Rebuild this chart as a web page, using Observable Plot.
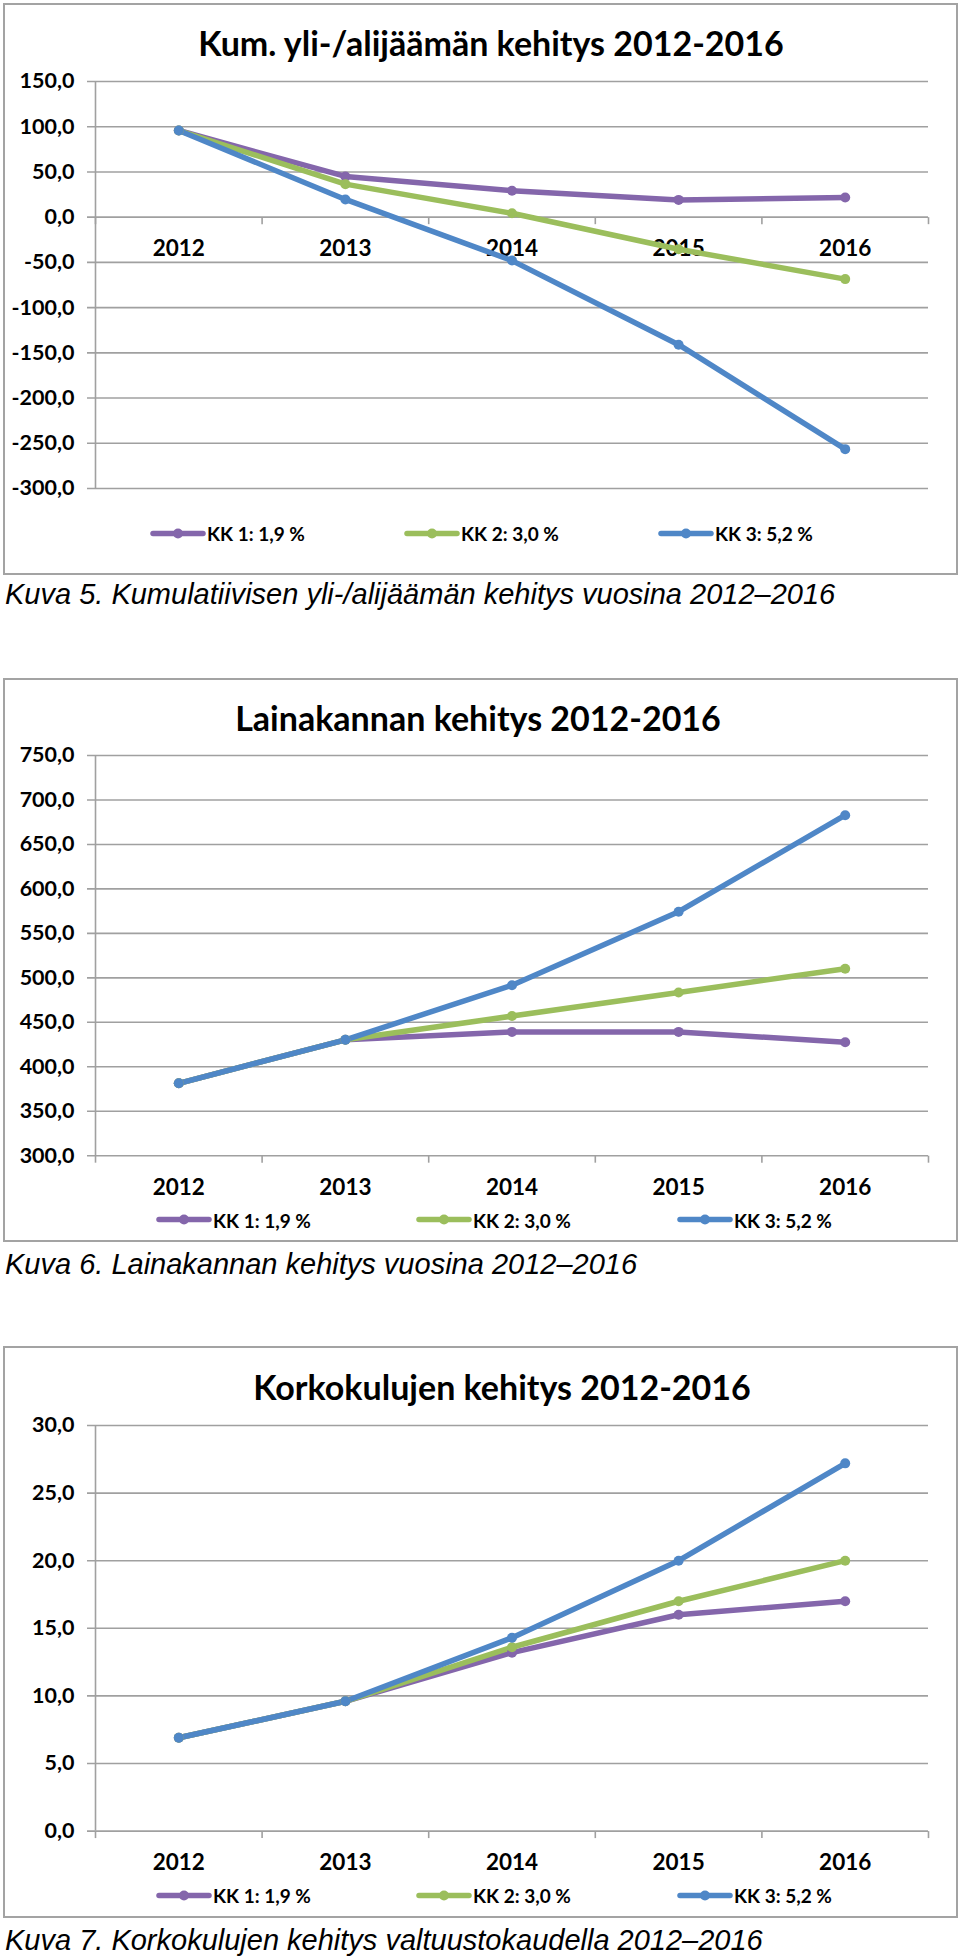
<!DOCTYPE html>
<html><head><meta charset="utf-8">
<script src="https://cdn.jsdelivr.net/npm/d3@7"></script>
<script src="https://cdn.jsdelivr.net/npm/@observablehq/plot@0.6"></script>
<style>
body{margin:0;background:#fff;}
#page{position:relative;width:960px;height:1956px;overflow:hidden;background:#fff;}
.box{position:absolute;border:2px solid #a3a3a3;box-sizing:border-box;}
.cf{font-family:Lato,'Open Sans',sans-serif;font-weight:bold;color:#000;}
.title{position:absolute;transform:translate(-50%,-50%);white-space:nowrap;font-size:34px;}
.plot{position:absolute;left:0;}
.leg{position:absolute;transform:translateY(-50%);display:flex;align-items:center;white-space:nowrap;font-size:19px;}
.caption{position:absolute;left:5px;transform:translateY(-50%);white-space:nowrap;font-family:'Liberation Sans',Arial,sans-serif;font-style:italic;font-size:29px;color:#000;}
</style>
</head><body><div id="page"></div>
<script>
const years = [2012, 2013, 2014, 2015, 2016];
const seriesNames = ["KK 1: 1,9 %", "KK 2: 3,0 %", "KK 3: 5,2 %"];
const seriesColors = ["#8466ab", "#9bbe5c", "#4f87c7"];

// Kuva 5: kumulatiivinen yli-/alijäämä
const kumTitle = "Kum. yli-/alijäämän kehitys 2012-2016";
const kumCaption = "Kuva 5. Kumulatiivisen yli-/alijäämän kehitys vuosina 2012–2016";
const kumKK1 = [95.8, 45.0, 29.3, 19.1, 21.7];
const kumKK2 = [95.8, 36.5, 4.3, -35.5, -68.5];
const kumKK3 = [95.8, 19.6, -48.0, -141.0, -256.5];
const kumTicks = [150, 100, 50, 0, -50, -100, -150, -200, -250, -300];

// Kuva 6: lainakanta
const lainaTitle = "Lainakannan kehitys 2012-2016";
const lainaCaption = "Kuva 6. Lainakannan kehitys vuosina 2012–2016";
const lainaKK1 = [381.4, 430.3, 439.2, 439.2, 427.6];
const lainaKK2 = [381.4, 430.3, 457.0, 483.6, 510.3];
const lainaKK3 = [381.4, 430.3, 491.6, 574.4, 682.9];
const lainaTicks = [750, 700, 650, 600, 550, 500, 450, 400, 350, 300];

// Kuva 7: korkokulut
const korkoTitle = "Korkokulujen kehitys 2012-2016";
const korkoCaption = "Kuva 7. Korkokulujen kehitys valtuustokaudella 2012–2016";
const korkoKK1 = [6.9, 9.6, 13.2, 16.0, 17.0];
const korkoKK2 = [6.9, 9.6, 13.6, 17.0, 20.0];
const korkoKK3 = [6.9, 9.6, 14.3, 20.0, 27.2];
const korkoTicks = [30, 25, 20, 15, 10, 5, 0];

const bounds = [2011.5, 2012.5, 2013.5, 2014.5, 2015.5, 2016.5];
const fmt = d => d.toFixed(1).replace(".", ",");
const labelFont = "Lato,'Open Sans',sans-serif";
const grid = "#a0a0a0";
const tickSymbol = {draw(ctx) { ctx.moveTo(0, 0); ctx.lineTo(0, 7); }};

const page = document.getElementById("page");

const charts = [
  {title: kumTitle, caption: kumCaption, series: [kumKK1, kumKK2, kumKK3], ticks: kumTicks,
   domain: [-300, 150], axisVal: 0, boxTop: 3, boxBottom: 575, titleX: 491, titleY: 42,
   gridTop: 81, gridBottom: 488, legY: 533, legX: [150, 404, 658], capY: 594},
  {title: lainaTitle, caption: lainaCaption, series: [lainaKK1, lainaKK2, lainaKK3], ticks: lainaTicks,
   domain: [300, 750], axisVal: 300, boxTop: 678, boxBottom: 1242, titleX: 478, titleY: 717,
   gridTop: 755.3, gridBottom: 1155.5, legY: 1219.5, legX: [156, 416, 677], capY: 1264},
  {title: korkoTitle, caption: korkoCaption, series: [korkoKK1, korkoKK2, korkoKK3], ticks: korkoTicks,
   domain: [0, 30], axisVal: 0, boxTop: 1346, boxBottom: 1918, titleX: 502, titleY: 1386,
   gridTop: 1424.6, gridBottom: 1830.2, legY: 1895, legX: [156, 416, 677], capY: 1940}
];

function el(tag, cls, styles, text) {
  const e = document.createElement(tag);
  if (cls) e.className = cls;
  Object.assign(e.style, styles || {});
  if (text != null) e.textContent = text;
  page.appendChild(e);
  return e;
}

for (const c of charts) {
  el("div", "box", {left: "3px", top: c.boxTop + "px", width: "955px", height: (c.boxBottom - c.boxTop) + "px"});
  el("div", "title cf", {left: c.titleX + "px", top: c.titleY + "px"}, c.title);

  const rows = [];
  c.series.forEach((vals, s) => vals.forEach((v, i) => rows.push({year: years[i], value: v, series: seriesNames[s]})));
  const mt = 20, mb = 30;
  const chart = Plot.plot({
    width: 960,
    height: (c.gridBottom - c.gridTop) + mt + mb,
    marginLeft: 95, marginRight: 32, marginTop: mt, marginBottom: mb,
    x: {domain: [2011.5, 2016.5], axis: null},
    y: {domain: c.domain, axis: null},
    color: {domain: seriesNames, range: seriesColors},
    style: {background: "transparent", overflow: "visible", fontFamily: labelFont},
    marks: [
      Plot.ruleY(c.ticks, {y: d => d, stroke: grid, strokeWidth: 1.6, insetLeft: -8}),
      Plot.ruleX([2011.5], {x: d => d, stroke: grid, strokeWidth: 1.6}),
      Plot.dot(bounds, {x: d => d, y: c.axisVal, symbol: tickSymbol, stroke: grid, strokeWidth: 1.6, fill: "none", r: 3}),
      Plot.text(c.ticks, {x: 2011.5, y: d => d, text: fmt, textAnchor: "end", dx: -21, fontSize: 21.5, fontWeight: "bold", fill: "#000"}),
      Plot.text(years, {x: d => d, y: c.axisVal, dy: 32, text: d => String(d), fontSize: 22.5, fontWeight: "bold", fill: "#000"}),
      Plot.line(rows, {x: "year", y: "value", stroke: "series", z: "series", strokeWidth: 5.5, strokeLinejoin: "round", strokeLinecap: "round"}),
      Plot.dot(rows, {x: "year", y: "value", fill: "series", r: 5})
    ]
  });
  chart.classList.add("plot");
  chart.style.position = "absolute";
  chart.style.left = "0px";
  chart.style.top = (c.gridTop - mt) + "px";
  page.appendChild(chart);

  seriesNames.forEach((name, i) => {
    const item = el("div", "leg cf", {left: c.legX[i] + "px", top: c.legY + "px"});
    const ns = "http://www.w3.org/2000/svg";
    const sw = document.createElementNS(ns, "svg");
    sw.setAttribute("width", 56); sw.setAttribute("height", 12);
    sw.style.marginRight = "1px";
    const ln = document.createElementNS(ns, "line");
    ln.setAttribute("x1", 3); ln.setAttribute("x2", 53); ln.setAttribute("y1", 6); ln.setAttribute("y2", 6);
    ln.setAttribute("stroke", seriesColors[i]); ln.setAttribute("stroke-width", 5.5); ln.setAttribute("stroke-linecap", "round");
    const ci = document.createElementNS(ns, "circle");
    ci.setAttribute("cx", 28); ci.setAttribute("cy", 6); ci.setAttribute("r", 5); ci.setAttribute("fill", seriesColors[i]);
    sw.appendChild(ln); sw.appendChild(ci);
    item.appendChild(sw);
    const t = document.createElement("span");
    t.textContent = name;
    item.appendChild(t);
  });

  el("div", "caption", {top: c.capY + "px"}, c.caption);
}
</script>
</body></html>
